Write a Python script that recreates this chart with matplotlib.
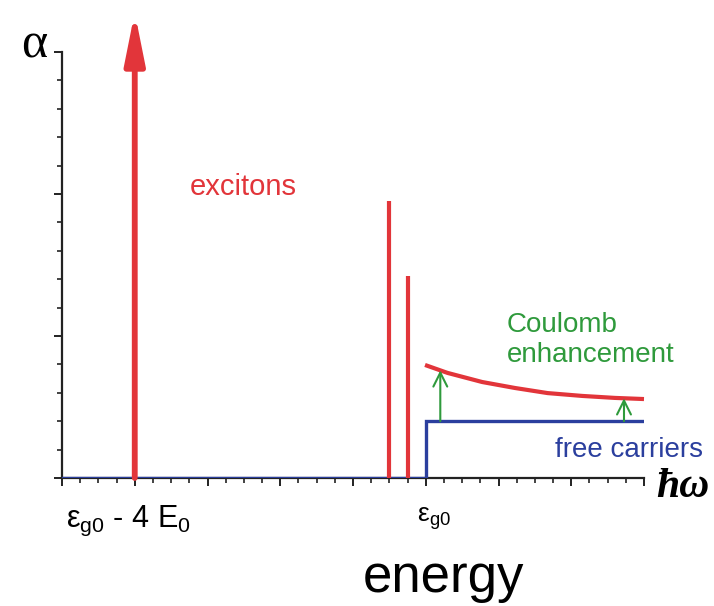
import matplotlib.pyplot as plt
import numpy as np
from matplotlib.ticker import MultipleLocator

plt.rcParams["font.family"] = ["Liberation Sans", "DejaVu Sans"]
plt.rcParams["mathtext.fontset"] = "custom"
plt.rcParams["mathtext.rm"] = "Liberation Sans"
plt.rcParams["mathtext.it"] = "Liberation Sans"

RED = "#e2353a"
BLUE = "#2b3f9e"
GREEN = "#2f9a3c"

# energy axis in tick units, absorption in minor-tick units
X_MAX = 32
Y_MAX = 15
GAP = 20

exciton_ground_x = 4
exciton_ground_top = 16.4
exciton_lines_x = [18, 19]
exciton_lines_top = [9.75, 7.1]

free_x = [0, GAP, GAP, X_MAX]
free_y = [0, 0, 2, 2]

coulomb_x = [19.96, 21.2, 23.1, 24.9, 26.7, 28.6, 30.4, 32.0]
coulomb_y = [3.98, 3.70, 3.38, 3.17, 2.99, 2.89, 2.82, 2.78]

enh_arrow_x = [20.8, 30.9]

fig = plt.figure(figsize=(7.14, 6.06), dpi=100)
ax = fig.add_axes([62 / 714, 1 - 478 / 606, 582 / 714, 426 / 606])
ax.set_xlim(0, X_MAX)
ax.set_ylim(0, Y_MAX)

for s in ("top", "right"):
    ax.spines[s].set_visible(False)
for s in ("left", "bottom"):
    ax.spines[s].set_linewidth(1.6)
    ax.spines[s].set_color("#222222")

ax.xaxis.set_major_locator(MultipleLocator(4))
ax.xaxis.set_minor_locator(MultipleLocator(1))
ax.yaxis.set_major_locator(MultipleLocator(5))
ax.yaxis.set_minor_locator(MultipleLocator(1))
ax.tick_params(which="major", length=6, width=1.4, color="#222222")
ax.tick_params(which="minor", length=3.5, width=1.2, color="#222222")
ax.set_xticklabels([])
ax.set_yticklabels([])

# free-carrier step
ax.plot(free_x, free_y, color=BLUE, lw=2.4, solid_joinstyle="miter", zorder=3)

# bound exciton lines
for x, top in zip(exciton_lines_x, exciton_lines_top):
    ax.plot([x, x], [0, top], color=RED, lw=3.0, solid_capstyle="butt", zorder=4)

# ground-state exciton as an arrow running off the top
ax.annotate("", xy=(exciton_ground_x, exciton_ground_top),
            xytext=(exciton_ground_x, 0), annotation_clip=False,
            arrowprops=dict(arrowstyle="-|>,head_length=1.5,head_width=0.3",
                            mutation_scale=20, color=RED, lw=4.2,
                            shrinkA=0, shrinkB=0), zorder=4)

# Coulomb-enhanced continuum
ax.plot(coulomb_x, coulomb_y, color=RED, lw=3.0, solid_capstyle="butt",
        clip_on=False, zorder=4)

for x in enh_arrow_x:
    top = np.interp(x, coulomb_x, coulomb_y)
    ax.annotate("", xy=(x, top), xytext=(x, 2),
                arrowprops=dict(arrowstyle="->,head_length=0.5,head_width=0.25",
                                mutation_scale=20, color=GREEN, lw=1.5,
                                shrinkA=0, shrinkB=0), zorder=5)

ax.text(243 / 714, 1 - 187 / 606, "excitons", transform=fig.transFigure,
        color=RED, fontsize=21, ha="center", va="center")
ax.text(507 / 714, 1 - 325 / 606, "Coulomb", transform=fig.transFigure,
        color=GREEN, fontsize=20, ha="left", va="center")
ax.text(507 / 714, 1 - 355 / 606, "enhancement", transform=fig.transFigure,
        color=GREEN, fontsize=20, ha="left", va="center")
ax.text(555 / 714, 1 - 450 / 606, "free carriers", transform=fig.transFigure,
        color=BLUE, fontsize=20, ha="left", va="center")

fig.text(34 / 714, 1 - 45 / 606, "α", fontsize=36, family="Liberation Serif",
         ha="center", va="center")
fig.text(683 / 714, 1 - 487 / 606, "ħω", fontsize=30, family="Liberation Serif",
         style="italic", weight="bold", ha="center", va="center")

fig.text(128 / 714, 1 - 521 / 606, r"ε$_{g0}$ - 4 E$_0$", fontsize=22,
         ha="center", va="center")
fig.text(434 / 714, 1 - 519 / 606, r"ε$_{g0}$", fontsize=19,
         ha="center", va="center")
fig.text(443 / 714, 1 - 578 / 606, "energy", fontsize=38,
         ha="center", va="center")

fig.savefig("out.png", dpi=100)
